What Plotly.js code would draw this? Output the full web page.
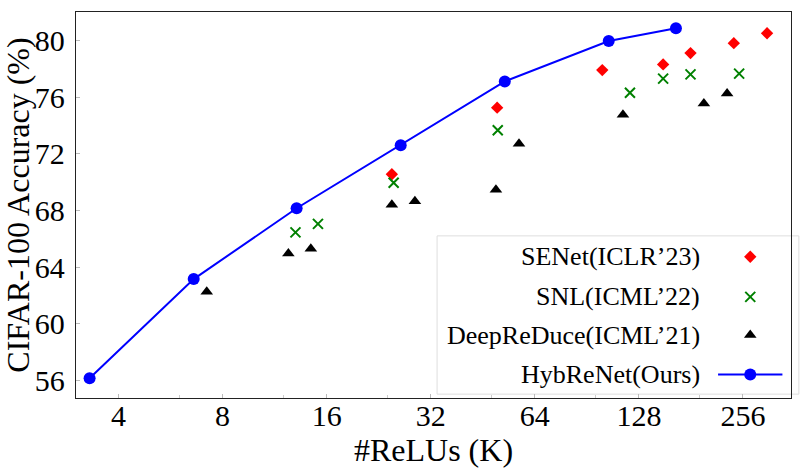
<!DOCTYPE html>
<html>
<head>
<meta charset="utf-8">
<script src="https://cdn.plot.ly/plotly-3.0.1.min.js"></script>
<style>html,body{margin:0;padding:0;background:#fff;}#chart{width:810px;height:472px;}</style>
</head>
<body>
<div id="chart"></div>
<script>
// ---- data ----
const hybX = [3.3, 6.6, 13.1, 26.2, 52.4, 104.7, 163.8];
const hybY = [56.15, 63.15, 68.15, 72.6, 77.1, 79.95, 80.85];

const senetX = [24.7, 49.8, 100.3, 150.4, 180.5, 240.8, 300.5];
const senetY = [70.55, 75.25, 77.9, 78.3, 79.1, 79.8, 80.5];

const snlX = [13.0, 15.1, 25.0, 50.0, 120.6, 150.4, 180.5, 249.5];
const snlY = [66.45, 67.05, 69.95, 73.65, 76.3, 77.3, 77.6, 77.65];

const drdX = [7.2, 12.4, 14.4, 24.7, 28.8, 49.4, 57.6, 115.1, 197.3, 230.3];
const drdY = [62.25, 64.95, 65.3, 68.4, 68.65, 69.45, 72.7, 74.75, 75.55, 76.25];

const xTickVals = [4, 8, 16, 32, 64, 128, 256];
const xTickText = ['4', '8', '16', '32', '64', '128', '256'];
const xMinorVals = [3, 6, 12, 24, 48, 96, 192];
const yTickVals = [56, 60, 64, 68, 72, 76, 80];

const names = ['SENet(ICLR\u201923)', 'SNL(ICML\u201922)', 'DeepReDuce(ICML\u201921)', 'HybReNet(Ours)'];

// ---- styles ----
const FONT = 'Liberation Serif, Times New Roman, serif';
const red = '#ff0000', green = '#008000', blue = '#0000ff', black = '#000000';
const mk = {
  senet: {symbol: 'diamond', size: 9.5, color: red},
  snl: {symbol: 'x-thin-open', size: 10, color: green, line: {color: green, width: 2}},
  drd: {symbol: 'triangle-up', size: 11, color: black},
  hyb: {symbol: 'circle', size: 12, color: blue}
};

// legend geometry (fractions of the plot area)
const LG = {box: [0.505, 0.010, 1.011, 0.420], symX: 0.943, lineX: [0.898, 0.988],
            rows: [0.366, 0.262, 0.163, 0.061], textX: 0.875};

const traces = [
  {x: hybX, y: hybY, mode: 'lines+markers', line: {color: blue, width: 2}, marker: mk.hyb, showlegend: false, cliponaxis: false},
  {x: senetX, y: senetY, mode: 'markers', marker: mk.senet, showlegend: false, cliponaxis: false},
  {x: snlX, y: snlY, mode: 'markers', marker: mk.snl, showlegend: false, cliponaxis: false},
  {x: drdX, y: drdY, mode: 'markers', marker: mk.drd, showlegend: false, cliponaxis: false},
  // legend keys on an overlay axis
  {x: [LG.symX], y: [LG.rows[0]], xaxis: 'x2', yaxis: 'y2', mode: 'markers', marker: mk.senet, showlegend: false, cliponaxis: false, hoverinfo: 'skip'},
  {x: [LG.symX], y: [LG.rows[1]], xaxis: 'x2', yaxis: 'y2', mode: 'markers', marker: mk.snl, showlegend: false, cliponaxis: false, hoverinfo: 'skip'},
  {x: [LG.symX], y: [LG.rows[2]], xaxis: 'x2', yaxis: 'y2', mode: 'markers', marker: mk.drd, showlegend: false, cliponaxis: false, hoverinfo: 'skip'},
  {x: LG.lineX, y: [LG.rows[3], LG.rows[3]], xaxis: 'x2', yaxis: 'y2', mode: 'lines', line: {color: blue, width: 2}, showlegend: false, cliponaxis: false, hoverinfo: 'skip'},
  {x: [LG.symX], y: [LG.rows[3]], xaxis: 'x2', yaxis: 'y2', mode: 'markers', marker: mk.hyb, showlegend: false, cliponaxis: false, hoverinfo: 'skip'}
];

const annotations = names.map((n, i) => ({
  text: n, xref: 'paper', yref: 'paper', x: LG.textX, y: LG.rows[i],
  xanchor: 'right', yanchor: 'middle', showarrow: false,
  font: {family: FONT, size: 26, color: '#000'}
}));

const layout = {
  width: 810, height: 472,
  margin: {l: 76, r: 19, t: 12, b: 74},
  paper_bgcolor: '#ffffff', plot_bgcolor: 'rgba(0,0,0,0)',
  font: {family: FONT, color: '#000'},
  showlegend: false,
  xaxis: {
    type: 'log', range: [0.4792, 2.5471],
    tickvals: xTickVals, ticktext: xTickText,
    ticks: 'inside', ticklen: 4, tickcolor: '#bbbbbb', tickwidth: 1,
    minor: {tickvals: xMinorVals, ticks: 'inside', ticklen: 3, tickcolor: '#cccccc', tickwidth: 1},
    showgrid: false, zeroline: false,
    showline: true, linecolor: '#222', linewidth: 1.3, mirror: true,
    tickfont: {family: FONT, size: 30, color: '#000'},
    ticklabelstandoff: -9,
    title: {text: '#ReLUs (K)', font: {family: FONT, size: 32, color: '#000'}, standoff: 2}
  },
  yaxis: {
    range: [54.76, 82.0],
    tickvals: yTickVals,
    ticks: 'inside', ticklen: 4, tickcolor: '#bbbbbb', tickwidth: 1,
    showgrid: false, zeroline: false,
    showline: true, linecolor: '#222', linewidth: 1.3, mirror: true,
    tickfont: {family: FONT, size: 30, color: '#000'},
    ticklabelstandoff: 4,
    title: {text: 'CIFAR-100 Accuracy (%)', font: {family: FONT, size: 32, color: '#000'}, standoff: 2}
  },
  xaxis2: {overlaying: 'x', range: [0, 1], visible: false, fixedrange: true},
  yaxis2: {overlaying: 'y', range: [0, 1], visible: false, fixedrange: true},
  shapes: [
    {type: 'rect', xref: 'paper', yref: 'paper', x0: LG.box[0], y0: LG.box[1], x1: LG.box[2], y1: LG.box[3],
     line: {color: '#dedede', width: 1}, fillcolor: 'rgba(255,255,255,0.8)', layer: 'below'}
  ],
  annotations: annotations
};

Plotly.newPlot('chart', traces, layout, {displayModeBar: false, staticPlot: true});
</script>
</body>
</html>
